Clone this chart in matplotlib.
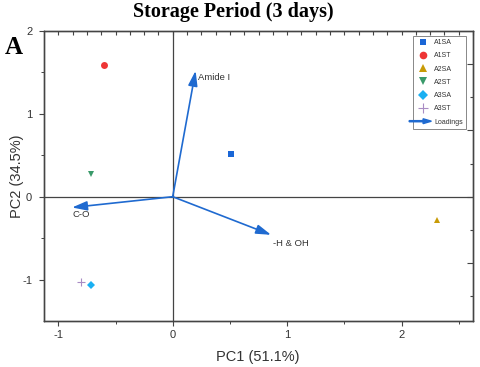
import numpy as np
import matplotlib
matplotlib.use("Agg")
import matplotlib.pyplot as plt
from matplotlib.patches import FancyArrow
from matplotlib.legend_handler import HandlerPatch
from matplotlib.lines import Line2D

plt.rcParams["font.family"] = ["Liberation Sans", "DejaVu Sans"]
plt.rcParams["axes.unicode_minus"] = False

# ---- data ----
samples = ["A1SA", "A1ST", "A2SA", "A2ST", "A3SA", "A3ST"]
pc1 = [0.51, -0.60, 2.31, -0.71, -0.71, -0.80]
pc2 = [0.52, 1.59, -0.28, 0.28, -1.07, -1.03]
loading_names = ["Amide I", "C-O", "-H & OH"]
load_x = [0.20, -0.88, 0.86]
load_y = [1.52, -0.13, -0.46]

markers = ["s", "o", "^", "v", "D", "+"]
colors = ["#1a66d6", "#ee3535", "#c89b06", "#3a9a6a", "#1ab0f2", "#a98cc4"]
msizes = [4.5, 5.0, 5.0, 5.0, 4.5, 6.0]
arrow_color = "#1f6ad0"
txt_color = "#333333"

fig = plt.figure(figsize=(4.8, 3.67), dpi=100)
ax = fig.add_axes([44/480, 1-321/367, (473-44)/480, (321-31)/367])
ax.set_xlim(-1.125, 2.625)
ax.set_ylim(-1.5, 2.0)

# zero lines
ax.axhline(0, color="#444444", lw=0.9, zorder=1)
ax.axvline(0, color="#444444", lw=0.9, zorder=1)

# loadings arrows
for name, lx, ly in zip(loading_names, load_x, load_y):
    ax.annotate("", xy=(lx, ly), xytext=(0, 0),
                arrowprops=dict(arrowstyle="-|>,head_length=0.9,head_width=0.28",
                                color=arrow_color, lw=1.2, shrinkA=0, shrinkB=0),
                zorder=3)
ax.text(0.22, 1.44, loading_names[0], fontsize=6.8, color=txt_color, va="center", ha="left")
ax.text(-0.88, -0.22, loading_names[1], fontsize=6.8, color=txt_color, va="center", ha="left")
ax.text(0.88, -0.57, loading_names[2], fontsize=6.8, color=txt_color, va="center", ha="left")

# scores
for s, x, y, m, c, ms in zip(samples, pc1, pc2, markers, colors, msizes):
    ax.plot([x], [y], marker=m, color=c, ms=ms, mew=(0.8 if m == "+" else 0),
            ls="none", zorder=4)

# ticks
for sp in ax.spines.values():
    sp.set_color("#444444")
    sp.set_linewidth(0.9)
ax.set_xticks([-1, 0, 1, 2])
ax.set_xticks([-0.5, 0.5, 1.5, 2.5], minor=True)
ax.set_yticks([-1, 0, 1, 2])
ax.set_yticks([-0.5, 0.5, 1.5], minor=True)
ax.tick_params(axis="both", which="major", direction="out", length=3.5, width=0.8,
               color="#444444", labelsize=8, labelcolor=txt_color, top=False, right=False)
ax.tick_params(axis="both", which="minor", direction="out", length=2, width=0.7,
               color="#444444", top=False, right=False)
ax.tick_params(axis="x", pad=3)
ax.tick_params(axis="y", pad=5)

# top and right inward ticks (secondary scales)
axt = ax.twiny()
axt.set_xlim(ax.get_xlim())
axt.set_xticks(np.arange(-1.0, 2.626, 0.125))
axt.tick_params(axis="x", direction="in", length=3, width=0.8, color="#444444",
                labeltop=False, top=True)
axr = ax.twinx()
axr.set_ylim(ax.get_ylim())
axr.set_yticks(np.arange(-0.8, 1.61, 0.8))
axr.set_yticks(np.arange(-1.2, 1.3, 0.8), minor=True)
axr.tick_params(axis="y", which="major", direction="in", length=4, width=0.8,
                color="#444444", labelright=False)
axr.tick_params(axis="y", which="minor", direction="in", length=2, width=0.8,
                color="#444444", labelright=False)
for a in (axt, axr):
    for sp in a.spines.values():
        sp.set_color("#444444")
        sp.set_linewidth(0.9)

ax.set_xlabel("PC1 (51.1%)", fontsize=10.5, color=txt_color)
ax.xaxis.set_label_coords((258-44)/429, -(350-321)/290)
ax.set_ylabel("PC2 (34.5%)", fontsize=10.5, color=txt_color)
ax.yaxis.set_label_coords(-(44-24)/429, (321-176)/290)

fig.text(233/480, 1-12/367, "Storage Period (3 days)", family="Liberation Serif",
         fontweight="bold", fontsize=14.5, ha="center", va="center")
fig.text(14/480, 1-47/367, "A", family="Liberation Serif", fontweight="bold",
         fontsize=18, ha="center", va="center")

# legend
handles = []
for s, m, c, ms in zip(samples, markers, colors, msizes):
    handles.append(Line2D([], [], marker=m, color=c, ls="none", ms=ms + 0.5,
                          mew=(0.8 if m == "+" else 0), label=s))
arrow_handle = FancyArrow(0, 0, 1, 0, color=arrow_color, label="Loadings")

def make_arrow(legend, orig_handle, xdescent, ydescent, width, height, fontsize):
    return FancyArrow(-xdescent - 5, height/2 - ydescent, width + 6, 0,
                      width=0.8, head_width=3.5, head_length=6,
                      length_includes_head=True, color=arrow_color)

handles.append(arrow_handle)
leg = ax.legend(handles=handles, loc="upper left",
                bbox_to_anchor=((413-44)/429, (321-36)/290),
                fontsize=5, frameon=True, fancybox=False, edgecolor="#888888",
                framealpha=1, handlelength=2.0, handletextpad=0.6,
                labelspacing=0.9, borderpad=0.45, borderaxespad=0,
                handler_map={FancyArrow: HandlerPatch(patch_func=make_arrow)})
leg.get_frame().set_linewidth(0.7)
for t in leg.get_texts():
    t.set_color(txt_color)
leg.set_zorder(10)

fig.savefig("out.png", dpi=100)
